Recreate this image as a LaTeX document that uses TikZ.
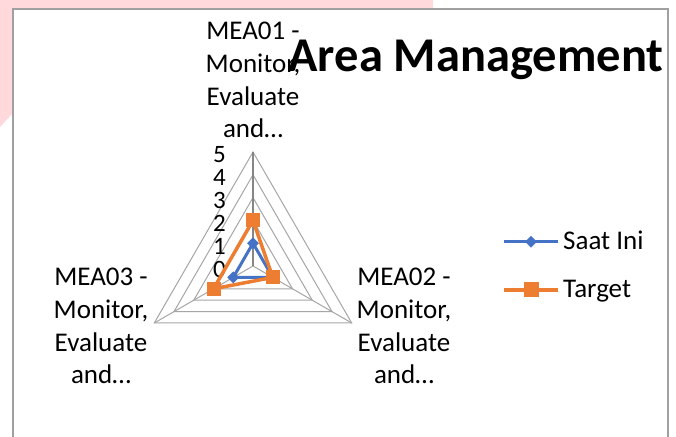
\documentclass[tikz,border=0pt]{standalone}
\usepackage{fontspec}
\setmainfont{Carlito}
\usepackage{tikz}
\usetikzlibrary{shapes.geometric, arrows, positioning}
\usetikzlibrary{calc}
\definecolor{pinkbg}{RGB}{255,217,220}
\definecolor{framegray}{RGB}{160,160,160}
\definecolor{ringgray}{RGB}{166,166,166}
\definecolor{axisgray}{RGB}{134,134,134}
\definecolor{serblue}{RGB}{68,114,196}
\definecolor{serorange}{RGB}{237,125,49}
\tikzstyle{axislab} = [align=center, inner sep=0pt, anchor=north, font=\fontsize{27}{32.7}\selectfont]
\tikzstyle{ticklab} = [inner sep=0pt, anchor=east, font=\fontsize{25}{30}\selectfont]
\tikzstyle{ring} = [draw=ringgray, line width=1pt]
\newcommand\unitr{22.8}
\tikzset{
	dmark/.style = {diamond, fill=serblue, inner sep=0pt, minimum width=12pt, minimum height=12pt},
	smark/.style = {rectangle, fill=serorange, inner sep=0pt, minimum width=14pt, minimum height=14pt},
	blueline/.style = {draw=serblue, line width=3pt},
	orangeline/.style = {draw=serorange, line width=3.5pt},
	legtext/.style = {inner sep=0pt, anchor=base west, font=\fontsize{27}{30}\selectfont}
}

\begin{document}
\begin{tikzpicture}[x=1pt, y=1pt]
%----------------------------------------------------------------------------
% Page and chart area
\clip (0,0) rectangle (676,436);
\fill [pinkbg] (0,436) -- (433,436) -- (433,427) -- (13,427) -- (13,323) -- (0,309) -- cycle;
\draw [framegray, fill=white, line width=1.2pt] (13,-10) rectangle (668,427);

%----------------------------------------------------------------------------
% Title
\node (title) [anchor=base, inner sep=0pt, font=\fontsize{48.5}{58}\bfseries] at (476,364) {Area Management};

%----------------------------------------------------------------------------
% Radar grid
\begin{scope}[shift={(253,170)}]
\foreach \v in {1,...,5}
	\draw [ring] (90:\v*\unitr) -- (-30:\v*\unitr) -- (210:\v*\unitr) -- cycle;
\draw [ring] (0,0) -- (-30:5*\unitr);
\draw [ring] (0,0) -- (210:5*\unitr);
\draw [draw=axisgray, line width=1.3pt] (0,0) -- (90:5*\unitr);
\foreach \v in {0,...,5}
	\node (tick\v) [ticklab] at (-27,\v*\unitr-3) {\v};

% Data points
\coordinate (si1) at (90:1*\unitr);
\coordinate (si2) at (-30:1*\unitr);
\coordinate (si3) at (210:1*\unitr);
\coordinate (tg1) at (90:2*\unitr);
\coordinate (tg2) at (-30:1*\unitr);
\coordinate (tg3) at (210:2*\unitr);
\end{scope}

%----------------------------------------------------------------------------
% Series
\draw [blueline] (si1) -- (si2) -- (si3) -- cycle;
\foreach \p in {si1,si2,si3}
	\node [dmark] at (\p) {};
\draw [orangeline] (tg1) -- (tg2) -- (tg3) -- cycle;
\foreach \p in {tg1,tg2,tg3}
	\node [smark] at (\p) {};

%----------------------------------------------------------------------------
% Axis labels
\node (mea01) [axislab] at (253,414) {MEA01 -\\Monitor,\\Evaluate\\and\ldots};
\node (mea02) [axislab] at (404,168) {MEA02 -\\Monitor,\\Evaluate\\and\ldots};
\node (mea03) [axislab] at (101,168) {MEA03 -\\Monitor,\\Evaluate\\and\ldots};

%----------------------------------------------------------------------------
% Legend
\coordinate (legA1) at (504,194.3);
\coordinate (legA2) at (558,194.3);
\coordinate (legB1) at (504,146);
\coordinate (legB2) at (558,146);
\draw [blueline] (legA1) -- (legA2);
\node (legAm) [dmark] at ($(legA1)!0.5!(legA2)$) {};
\node (legAt) [legtext] at (563,186) {Saat Ini};
\draw [orangeline] (legB1) -- (legB2);
\node (legBm) [smark, minimum width=15pt, minimum height=15pt] at ($(legB1)!0.5!(legB2)$) {};
\node (legBt) [legtext] at (563,138) {Target};
\end{tikzpicture}
\end{document}
